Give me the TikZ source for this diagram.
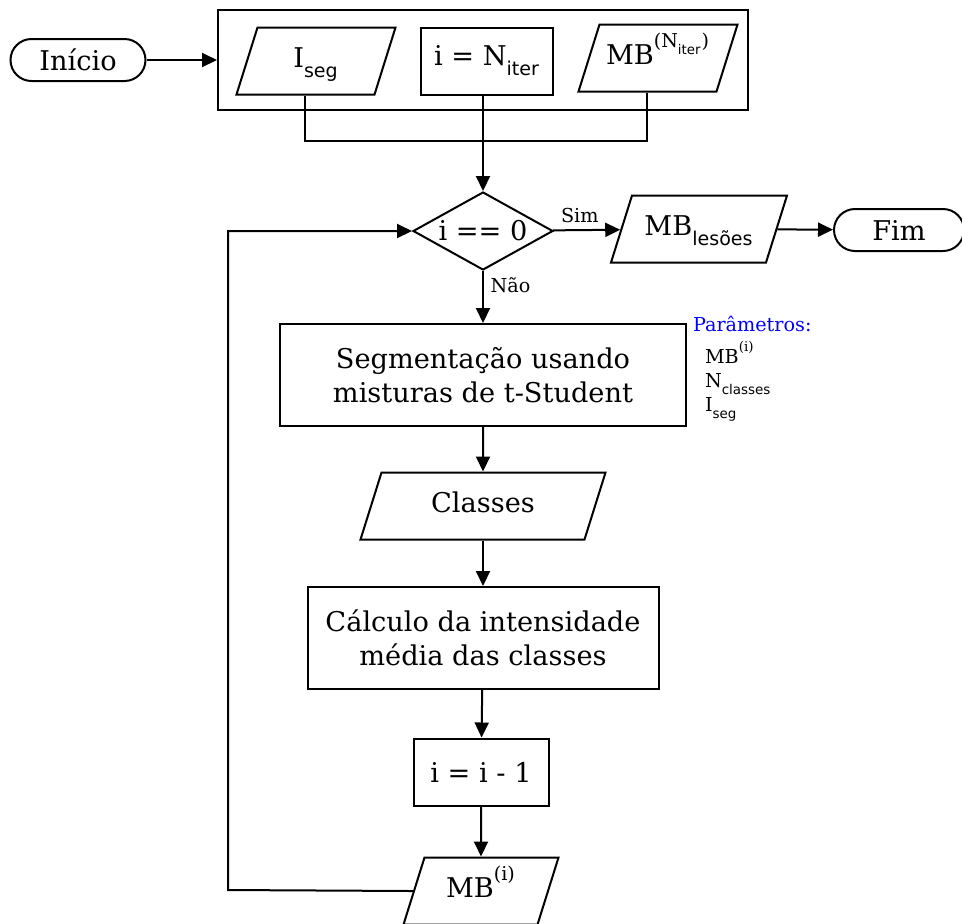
\documentclass[tikz,border=0pt]{standalone}
\usepackage{fontspec}
\setmainfont{DejaVu Serif}
\setsansfont{DejaVu Sans}
\usetikzlibrary{shapes.geometric,arrows.meta}

\newcommand{\lowtxt}[1]{\textsubscript{\raisebox{-0.3em}{\sffamily #1}}}
\newcommand{\hightxt}[1]{\textsuperscript{\raisebox{0.35em}{#1}}}

\tikzset{
  terminal/.style={draw, rounded corners=10.5pt, minimum width=67.5pt,
    minimum height=21pt, inner sep=0pt},
  procbox/.style={draw, inner sep=0pt, align=center, minimum height=33.5pt},
  datain/.style={draw, trapezium, trapezium left angle=72.6,
    trapezium right angle=107.4, trapezium stretches body,
    text height=9.5pt, text depth=3pt, inner xsep=0pt, inner ysep=10.5pt},
  decision/.style={draw, diamond, aspect=1.8, minimum width=70pt,
    minimum height=39pt, inner sep=0pt},
  flow/.style={-{Triangle[length=7.5pt,width=7pt]}},
  tag/.style={font=\fontsize{9.6}{11}\selectfont}
}

\begin{document}
\begin{tikzpicture}[x=0.5pt, y=-0.5pt, line width=1pt,
    font=\fontsize{13.6}{17}\selectfont]

  \useasboundingbox (0,0) rectangle (962,923);

  % Entradas
  \node[terminal] (inicio) at (78,60) {Início};
  \node[draw, minimum width=265pt, minimum height=50pt] (entradas) at (483,60) {};
  \node[datain, minimum width=79.5pt] (iseg) at (316,61) {I\lowtxt{seg}};
  \node[procbox, minimum width=66pt] (iter) at (487,61) {i = N\lowtxt{iter}};
  \node[datain, minimum width=79.5pt] (mbn) at (658,58) {MB\hightxt{(N\lowtxt{iter})}};

  % Laco
  \node[decision] (teste) at (483,231) {i == 0};
  \node[datain, minimum width=88pt] (mbl) at (699,229) {MB\lowtxt{lesões}};
  \node[terminal, minimum width=65pt] (fim) at (899,230) {Fim};
  \node[procbox, minimum width=203pt, minimum height=51pt] (seg) at (483,375)
    {Segmentação usando\\misturas de t-Student};
  \node[datain, minimum width=122.5pt] (classes) at (483,506) {Classes};
  \node[procbox, minimum width=175.5pt, minimum height=51pt] (media) at (483,638)
    {Cálculo da intensidade\\média das classes};
  \node[procbox, minimum width=67.5pt] (decr) at (481,772) {i = i - 1};
  \node[datain, minimum width=77.5pt] (mbi) at (481,891) {MB\hightxt{(i)}};

  % Parametros
  \node[tag, anchor=base west, inner sep=0pt, text=blue] (param) at (692,331) {Parâmetros:};
  \node[tag, anchor=base west, inner sep=0pt] (pmb) at (704,363) {MB\hightxt{(i)}};
  \node[tag, anchor=base west, inner sep=0pt] (pncl) at (704,387) {N\lowtxt{classes}};
  \node[tag, anchor=base west, inner sep=0pt] (piseg) at (704,411) {I\lowtxt{seg}};

  % Ligacoes
  \coordinate (junta) at (483,141);
  \coordinate (volta) at (228,890);
  \draw[flow] (inicio) -- (entradas);
  \draw (iseg.bottom side) |- (junta) -| (mbn.bottom side);
  \draw[flow] (iter.south -| teste.north) -- (teste.north);
  \draw[flow] (teste) -- node[tag, above, pos=0.4] {Sim} (mbl);
  \draw[flow] (mbl) -- (fim);
  \draw[flow] (teste) -- node[tag, right, pos=0.28] {Não} (seg);
  \draw[flow] (seg) -- (classes);
  \draw[flow] (classes) -- (media);
  \draw[flow] (media) -- (decr);
  \draw[flow] (decr) -- (mbi);
  \draw[flow] (mbi.left side) -- (volta) |- (teste.west);

\end{tikzpicture}
\end{document}
